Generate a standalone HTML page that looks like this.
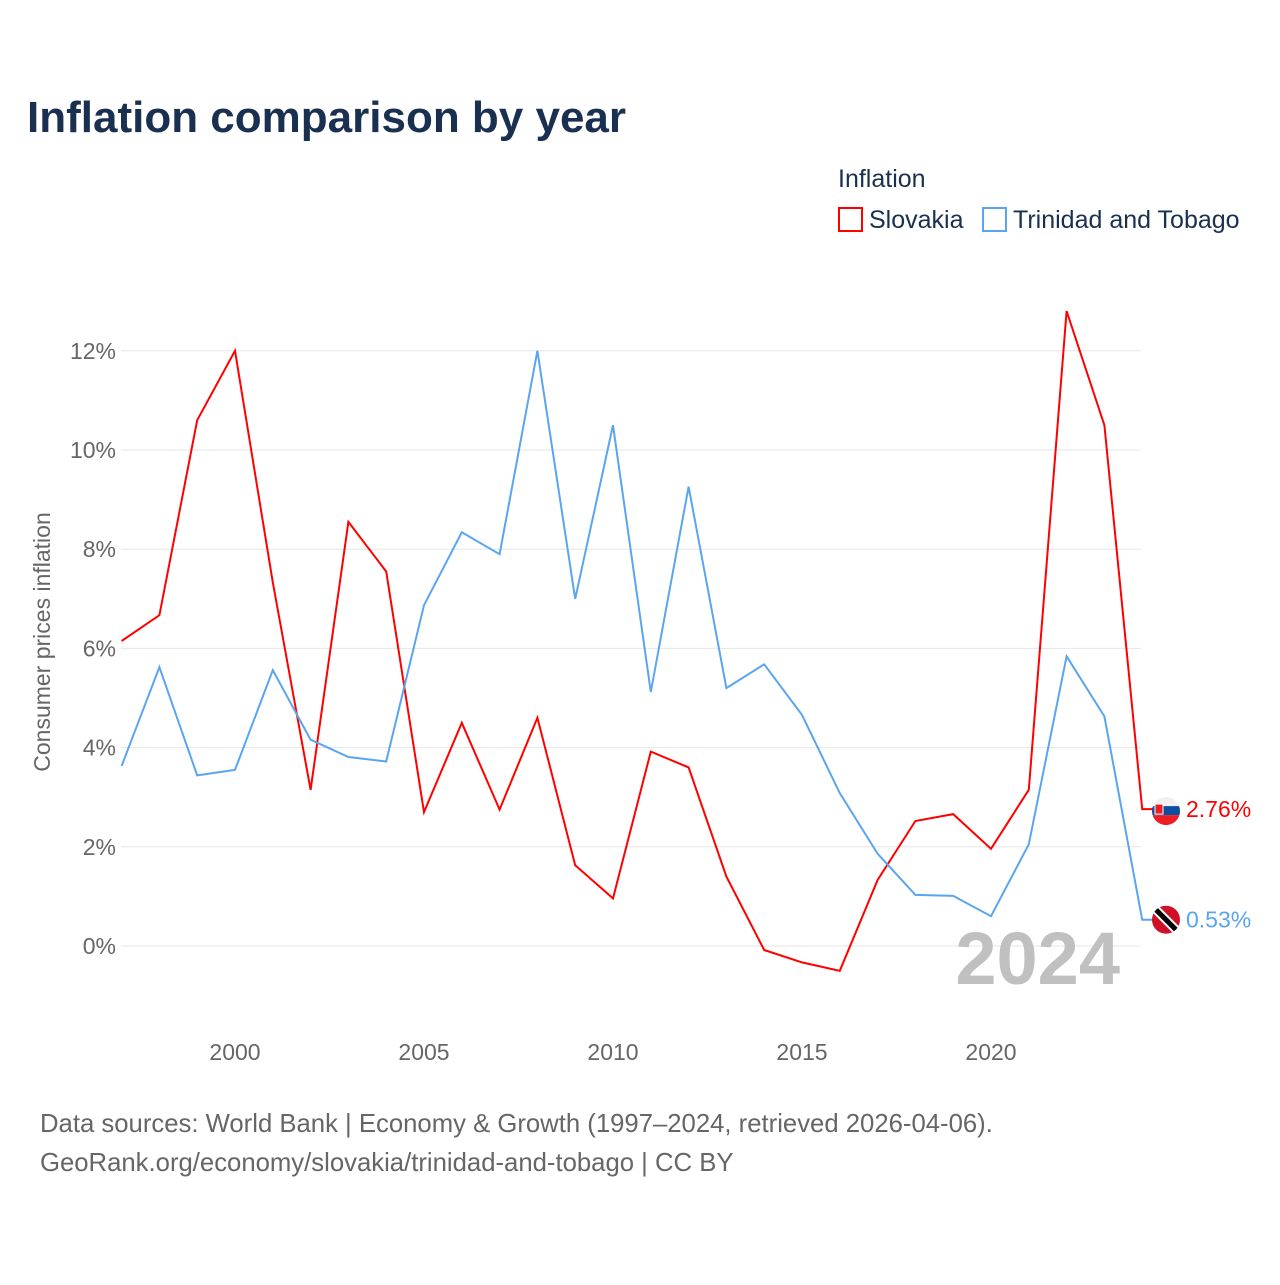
<!DOCTYPE html>
<html><head><meta charset="utf-8"><style>
body{margin:0;background:#fff;font-family:"Liberation Sans",sans-serif;}
</style></head><body>
<svg id="c" width="1280" height="1280" xmlns="http://www.w3.org/2000/svg">
<rect width="1280" height="1280" fill="#fff"/>
<text x="27" y="132" font-size="44" font-weight="bold" fill="#1a3050">Inflation comparison by year</text>
<text x="838" y="187" font-size="25" fill="#1a3050">Inflation</text>
<g><rect x="839" y="208" width="23" height="23" fill="none" stroke="#ff0000" stroke-width="2"/><text x="869" y="228" font-size="25" fill="#1a3050">Slovakia</text></g>
<g><rect x="983" y="208" width="23" height="23" fill="none" stroke="#5aa5ef" stroke-width="2"/><text x="1013" y="228" font-size="25" fill="#1a3050">Trinidad and Tobago</text></g>
<text transform="translate(50,642) rotate(-90)" text-anchor="middle" font-size="23" fill="#666">Consumer prices inflation</text>
<g id="grid"></g><g id="xt"></g>
<text x="1120" y="984" text-anchor="end" font-size="74" font-weight="bold" fill="#c0c0c0">2024</text>
<g id="series"></g>
<text x="40" y="1132" font-size="25.7" fill="#666">Data sources: World Bank | Economy &amp; Growth (1997–2024, retrieved 2026-04-06).</text>
<text x="40" y="1171" font-size="25.7" fill="#666">GeoRank.org/economy/slovakia/trinidad-and-tobago | CC BY</text>
</svg>
<script>
const years=[1997,1998,1999,2000,2001,2002,2003,2004,2005,2006,2007,2008,2009,2010,2011,2012,2013,2014,2015,2016,2017,2018,2019,2020,2021,2022,2023,2024];
const slovakia=[6.15,6.67,10.6,12.0,7.33,3.15,8.55,7.55,2.7,4.5,2.75,4.6,1.63,0.96,3.92,3.6,1.4,-0.08,-0.33,-0.5,1.33,2.52,2.66,1.96,3.15,12.8,10.5,2.76];
const trinidad=[3.63,5.62,3.44,3.55,5.56,4.16,3.81,3.72,6.87,8.34,7.9,12.0,7.0,10.5,5.12,9.26,5.2,5.68,4.66,3.08,1.86,1.03,1.01,0.6,2.05,5.84,4.63,0.53];
const yTicks=[0,2,4,6,8,10,12];
const xTicks=[2000,2005,2010,2015,2020];
const NS="http://www.w3.org/2000/svg";
const X=y=>121.6+(y-1997)*37.8, Y=v=>946-v*49.6;
function mk(t,a,p){const e=document.createElementNS(NS,t);for(const k in a)e.setAttribute(k,a[k]);p.appendChild(e);return e;}
const g=document.getElementById('grid');
yTicks.forEach(v=>{const l=mk('line',{x1:121,x2:1141,y1:Y(v),y2:Y(v),stroke:'#e6e6e6','stroke-width':1},g);


const t=mk('text',{x:116,y:Y(v)+8,'text-anchor':'end','font-size':23,fill:'#666'},g);t.textContent=v+'%';

});
const xt=document.getElementById('xt');
xTicks.forEach(v=>{const t=mk('text',{x:X(v),y:1060,'text-anchor':'middle','font-size':23,fill:'#666'},xt);t.textContent=v;

});
const s=document.getElementById('series');
function draw(vals,col,name){
 let d=vals.map((v,i)=>(i?'L':'M')+X(years[i]).toFixed(1)+','+Y(v).toFixed(1)).join(' ');
 const last=vals[vals.length-1];
 d+=' L1155,'+Y(last).toFixed(1);
 const p=mk('path',{d:d,fill:'none',stroke:col,'stroke-width':2},s);
 
 
 const t=mk('text',{x:1186,y:Y(last)+8,'font-size':23,fill:col},s);t.textContent=last.toFixed(2)+'%';
 
 
 return Y(last);
}
const ys=draw(slovakia,'#ff0000','slovakia');
const yt=draw(trinidad,'#5aa5ef','trinidad');
const f1=mk('g',{},s);


mk('clipPath',{id:'cp1'},f1);mk('circle',{cx:1166,cy:ys+2,r:14},f1.lastChild);
const fg=mk('g',{'clip-path':'url(#cp1)'},f1);
mk('rect',{x:1150,y:ys-13,width:32,height:10,fill:'#f0f0f0'},fg);
mk('rect',{x:1150,y:ys-3,width:32,height:9,fill:'#0b4ea2'},fg);
mk('rect',{x:1150,y:ys+6,width:32,height:12,fill:'#ee1c25'},fg);
mk('rect',{x:1155,y:ys-5,width:8,height:10,fill:'#ee1c25',stroke:'#fff','stroke-width':1},f1);
const f2=mk('g',{},s);


mk('clipPath',{id:'cp2'},f2);mk('circle',{cx:1166,cy:yt,r:14},f2.lastChild);
const fg2=mk('g',{'clip-path':'url(#cp2)'},f2);
mk('rect',{x:1150,y:yt-16,width:32,height:32,fill:'#ce1126'},fg2);
mk('line',{x1:1154,y1:yt-12,x2:1178,y2:yt+12,stroke:'#fff','stroke-width':9},fg2);
mk('line',{x1:1154,y1:yt-12,x2:1178,y2:yt+12,stroke:'#000','stroke-width':5},fg2);
</script>
</body></html>
